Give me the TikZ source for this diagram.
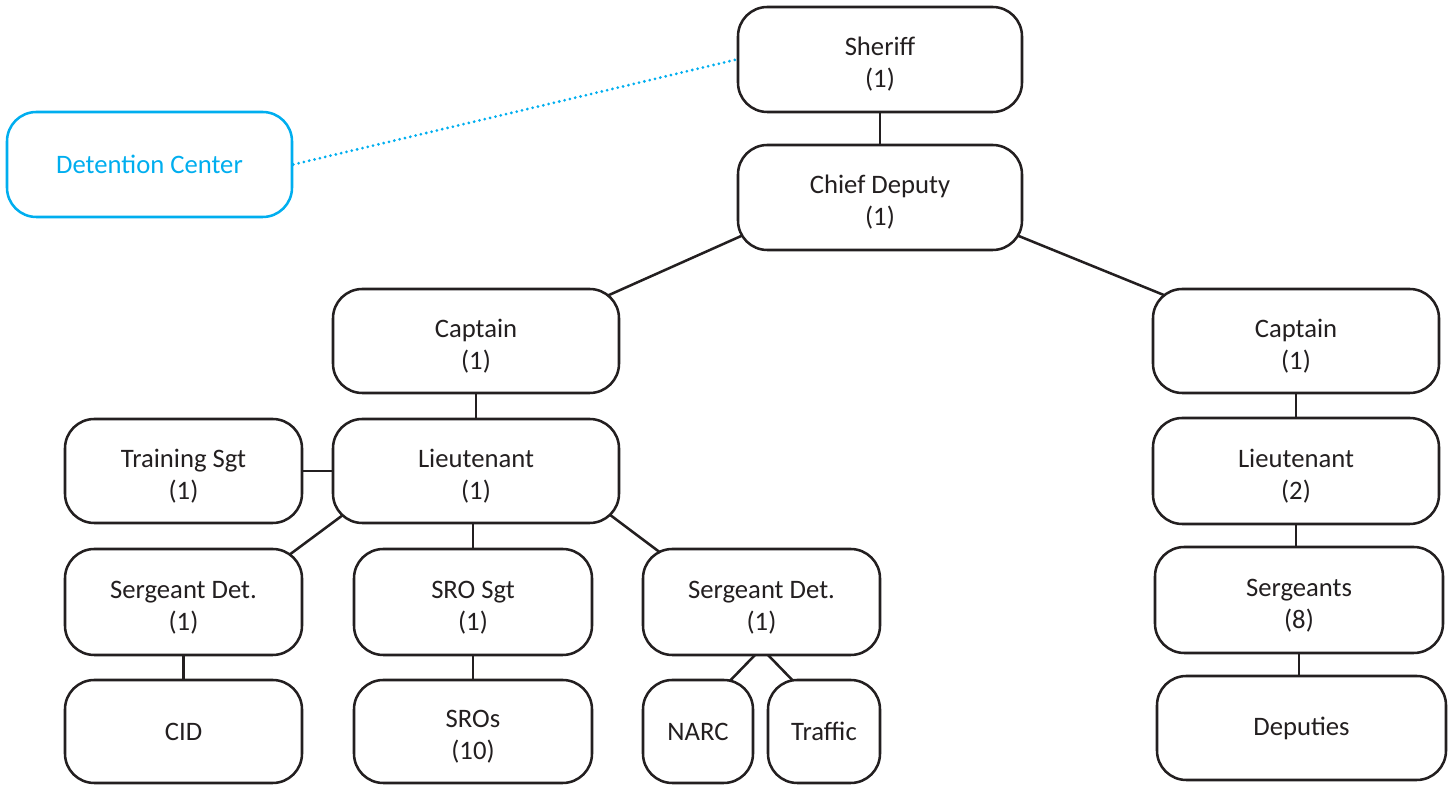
\documentclass[tikz,border=0pt]{standalone}
\usepackage{fontspec}
\setmainfont{Carlito}
\usetikzlibrary{calc,backgrounds}
\definecolor{ink}{HTML}{231F20}
\definecolor{sky}{HTML}{00AEEF}
% two-line label: a tall first line sets the pair a little lower in its box
\newcommand{\rankcount}[2]{\rule{0pt}{21pt}#1\\#2}
\begin{document}
\begin{tikzpicture}[x=0.75pt,y=0.75pt,
  box/.style 2 args={draw=ink, line width=1.9pt, fill=white, rounded corners=22pt,
    minimum width=#1*0.75pt, minimum height=#2*0.75pt, inner sep=0pt,
    align=center, text=ink, font=\fontsize{20}{24}\selectfont},
  skybox/.style 2 args={box={#1}{#2}, draw=sky, text=sky},
  link/.style={draw=ink, line width=1.9pt},
  dotlink/.style={draw=sky, line width=2.3pt, line cap=round, dash pattern=on 0pt off 4.1pt}]
\useasboundingbox (0,0) rectangle (1450,785);
% top of the chain of command
\node[box={284}{105}] (sheriff) at (880,725.5) {\rankcount{Sheriff}{(1)}};
\node[box={284}{105}] (cd) at (880,587.5) {\rankcount{Chief Deputy}{(1)}};
\node[skybox={285}{105}] (det) at (149.5,620.5) {Detention Center};
% left branch
\node[box={286}{104}] (capL) at (476,444) {\rankcount{Captain}{(1)}};
\node[box={286}{104}] (ltL) at (476,314) {\rankcount{Lieutenant}{(1)}};
\node[box={237}{104}] (trn) at (183.5,314) {\rankcount{Training Sgt}{(1)}};
\node[box={237}{106}] (sdL) at (183.5,183) {\rankcount{Sergeant Det.}{(1)}};
\node[box={238}{106}] (sro) at (473,183) {\rankcount{SRO Sgt}{(1)}};
\node[box={237}{106}] (sdR) at (761.5,183) {\rankcount{Sergeant Det.}{(1)}};
\node[box={237}{103}] (cid) at (183.5,53.5) {CID};
\node[box={238}{103}] (sros) at (473,53.5) {\rankcount{SROs}{(10)}};
\node[box={110}{103}] (narc) at (698,53.5) {NARC};
\node[box={112}{103}] (traffic) at (824,53.5) {Traffic};
% right branch
\node[box={286}{104}] (capR) at (1296,444) {\rankcount{Captain}{(1)}};
\node[box={286}{106}] (ltR) at (1296,314) {\rankcount{Lieutenant}{(2)}};
\node[box={288}{106}] (sgts) at (1299,185) {\rankcount{Sergeants}{(8)}};
\node[box={289}{104}] (deps) at (1301.5,57) {Deputies};
% connectors, behind the boxes
\begin{scope}[on background layer]
\draw[link] (sheriff.south) -- (sheriff.south |- cd.north);
\draw[link] ($(cd.south west)+(24,24)$) -- ($(capL.north east)+(-33,-17)$);
\draw[link] ($(cd.south east)+(-26,24)$) -- ($(capR.north west)+(36,-17)$);
\draw[link] (capL.south) -- (capL.south |- ltL.north);
\draw[link] (trn.east) -- (ltL.west);
\draw[link] ($(ltL.south west)+(23,18)$) -- ($(sdL.north east)+(-30,-19)$);
\draw[link] (sro.north -| ltL.south) ++(-3,0) -- ($(ltL.south)+(-3,0)$);
\draw[link] ($(ltL.south east)+(-23,19)$) -- ($(sdR.north west)+(36,-18)$);
\draw[link] (sdL.south) -- (sdL.south |- cid.north);
\draw[link] (sro.south) -- (sro.south |- sros.north);
\draw[link] ($(sdR.south)+(0,8)$) -- ($(narc.north east)+(-31,-9)$);
\draw[link] ($(sdR.south)+(0,8)$) -- ($(traffic.north west)+(33,-9)$);
\draw[link] (capR.south) -- (capR.south |- ltR.north);
\draw[link] (ltR.south) -- (ltR.south |- sgts.north);
\draw[link] (sgts.south) -- (sgts.south |- deps.north);
\end{scope}
\draw[dotlink] (det.east) -- (sheriff.west);
\end{tikzpicture}
\end{document}
